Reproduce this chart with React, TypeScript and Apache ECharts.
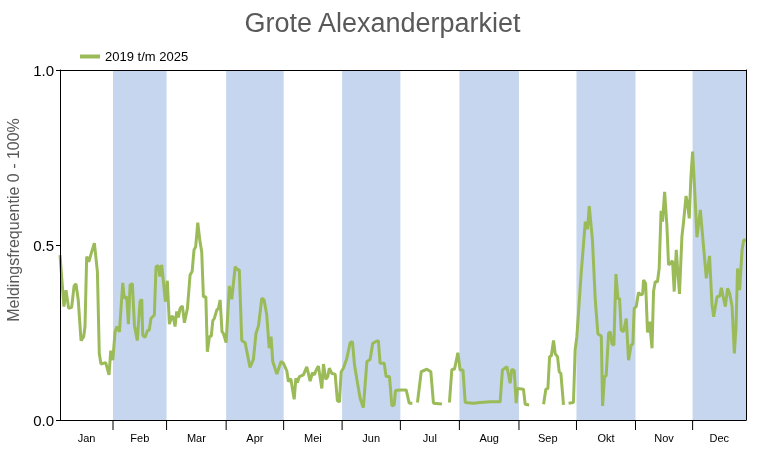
import React, { useEffect, useRef } from "react";
import * as echarts from "echarts";

const monthNames = ["Jan", "Feb", "Mar", "Apr", "Mei", "Jun", "Jul", "Aug", "Sep", "Okt", "Nov", "Dec"];
// month boundaries on the day axis (as drawn in the reference)
const monthStarts = [0, 28.2, 56.7, 88.4, 119.0, 150.1, 181.1, 212.5, 244.2, 274.8, 306.2, 336.6, 365];
const yTicks = [0, 0.5, 1];
const seriesName = "2019 t/m 2025";
const yName = "Meldingsfrequentie 0 - 100%";

const days = [
  0.0, 2.1, 3.2, 4.6, 6.2, 7.5, 8.5, 9.7, 11.2, 12.6, 13.3, 14.2, 15.3, 16.9, 18.3, 19.9, 20.9, 21.8, 24.3, 26.1,
  27.0, 28.1, 29.3, 30.3, 31.6, 33.4, 34.2, 35.5, 36.4, 37.3, 38.5, 39.6, 41.1, 42.6, 43.5, 44.0, 45.2, 46.5, 47.5, 48.4,
  50.2, 51.1, 52.3, 53.1, 54.1, 56.1, 57.1, 58.2, 59.5, 60.3, 61.2, 62.1, 63.0, 63.9, 65.1, 66.2, 67.8, 69.2, 70.3, 71.3,
  72.2, 73.3, 74.5, 75.4, 76.3, 77.6, 78.4, 79.5, 80.5, 81.3, 82.1, 83.4, 84.3, 85.2, 86.2, 86.9, 88.4, 90.1, 91.4, 93.2,
  94.4, 95.4, 96.7, 98.5, 101.1, 102.9, 104.3, 105.6, 107.4, 108.6, 110.0, 111.3, 112.3, 113.2, 115.4, 117.6, 118.9, 120.7, 121.5, 122.8,
  124.6, 125.5, 126.3, 127.4, 129.5, 131.3, 133.1, 134.3, 135.4, 136.3, 137.5, 139.3, 140.2, 141.4, 142.5, 143.3, 144.6, 146.4, 147.6, 148.7,
  149.6, 150.8, 152.6, 154.4, 155.6, 156.7, 158.3, 159.7, 161.4, 163.3, 165.0, 166.4, 167.7, 169.4, 170.3, 172.5, 173.5, 175.3, 176.6, 177.8,
  178.5, 181.0, 184.2, 185.8, 187.5, 189.0,
  190.2, 192.2, 195.2, 197.3, 198.7, 203.2, 205.0,
  207.2, 208.5, 209.9, 211.7, 212.9, 214.4, 215.6, 220.0, 223.6, 228.9, 234.2, 235.4, 237.8, 239.5, 240.4, 241.7, 242.7, 243.4, 246.6, 247.5,
  249.6, 253.0,
  257.3, 258.5, 259.6, 260.5, 261.4, 262.6, 263.5, 264.7, 265.6, 266.5, 267.9, 269.0,
  270.6, 273.2, 274.1, 275.0, 277.3, 279.5, 280.7, 281.6, 283.3, 284.8, 286.2, 288.0, 288.7, 289.7, 290.6, 291.9, 292.8, 293.7, 294.7, 295.8,
  296.9, 297.7, 298.6, 299.8, 301.3, 302.5, 303.9, 304.8, 305.5, 306.6, 307.8, 309.1, 310.0, 310.5, 311.6, 312.6, 313.7, 315.0, 315.8, 316.7,
  317.9, 318.8, 319.8, 320.6, 321.7, 322.9, 323.8, 325.1, 325.9, 326.8, 327.9, 328.6, 329.6, 330.9, 331.8, 333.1, 333.9, 334.8, 335.7, 336.6,
  337.6, 338.9, 340.7, 342.1, 343.9, 345.6, 346.9, 347.8, 349.6, 351.0, 351.9, 352.8, 354.0, 355.2, 356.3, 357.6, 358.8, 359.7, 360.5, 361.6,
  362.9, 363.8, 365.0,
];

const values = [
  0.471, 0.324, 0.371, 0.319, 0.322, 0.383, 0.389, 0.343, 0.227, 0.238, 0.267, 0.467, 0.452, 0.481, 0.505, 0.424, 0.19, 0.16, 0.164, 0.129,
  0.198, 0.171, 0.252, 0.267, 0.252, 0.392, 0.348, 0.352, 0.274, 0.386, 0.39, 0.271, 0.227, 0.338, 0.345, 0.243, 0.236, 0.255, 0.257, 0.29,
  0.3, 0.438, 0.441, 0.41, 0.443, 0.338, 0.398, 0.274, 0.297, 0.293, 0.267, 0.31, 0.293, 0.319, 0.326, 0.278, 0.319, 0.414, 0.424, 0.486,
  0.495, 0.564, 0.509, 0.481, 0.352, 0.352, 0.195, 0.238, 0.24, 0.284, 0.29, 0.314, 0.319, 0.343, 0.252, 0.248, 0.221, 0.383, 0.345, 0.438,
  0.429, 0.429, 0.227, 0.221, 0.15, 0.173, 0.248, 0.269, 0.348, 0.343, 0.3, 0.205, 0.238, 0.167, 0.131, 0.167, 0.162, 0.14, 0.11, 0.118,
  0.059, 0.119, 0.107, 0.124, 0.129, 0.152, 0.111, 0.135, 0.129, 0.143, 0.154, 0.09, 0.16, 0.116, 0.124, 0.148, 0.133, 0.131, 0.055, 0.052,
  0.138, 0.148, 0.176, 0.221, 0.224, 0.157, 0.105, 0.062, 0.035, 0.167, 0.173, 0.219, 0.223, 0.227, 0.162, 0.162, 0.124, 0.124, 0.04, 0.043,
  0.084, 0.086, 0.086, 0.048, 0.048, null,
  0.05, 0.138, 0.145, 0.138, 0.048, 0.046, null,
  0.05, 0.145, 0.145, 0.192, 0.143, 0.143, 0.05, 0.048, 0.05, 0.052, 0.052, 0.143, 0.152, 0.105, 0.145, 0.141, 0.048, 0.09, 0.088, 0.045,
  0.043, null,
  0.045, 0.088, 0.09, 0.181, 0.183, 0.227, 0.189, 0.181, 0.138, 0.133, 0.043, null,
  0.048, 0.05, 0.2, 0.238, 0.419, 0.567, 0.545, 0.611, 0.514, 0.343, 0.246, 0.24, 0.04, 0.124, 0.126, 0.248, 0.252, 0.217, 0.214, 0.417,
  0.345, 0.348, 0.257, 0.252, 0.29, 0.171, 0.214, 0.217, 0.319, 0.324, 0.364, 0.357, 0.36, 0.4, 0.39, 0.25, 0.281, 0.205, 0.367, 0.395,
  0.395, 0.433, 0.598, 0.567, 0.652, 0.557, 0.443, 0.45, 0.455, 0.367, 0.486, 0.433, 0.36, 0.524, 0.567, 0.64, 0.619, 0.576, 0.695, 0.767,
  0.667, 0.522, 0.6, 0.514, 0.405, 0.469, 0.329, 0.295, 0.352, 0.354, 0.378, 0.354, 0.324, 0.376, 0.362, 0.324, 0.19, 0.267, 0.433, 0.371,
  0.486, 0.514, 0.514,
];

const FONT = '"Liberation Sans", Arial, Helvetica, sans-serif';
const LINE_COLOR = "#9BBB59";
const BAND_COLOR = "#C6D6EE";

export default function App() {
  const ref = useRef<HTMLDivElement>(null);

  useEffect(() => {
    if (!ref.current) return;
    const chart = echarts.init(ref.current, undefined, { renderer: "svg" });

    const lineData = days.map((d, i) => [d, values[i] === null ? "-" : values[i]]);
    const monthData = monthNames.map((_, i) => [monthStarts[i], monthStarts[i + 1], i]);

    const baseX = {
      type: "value" as const,
      min: 0,
      max: 365,
      axisLine: { show: true, onZero: false, lineStyle: { color: "#000", width: 1 } },
      axisTick: { show: false },
      axisLabel: { show: false },
      splitLine: { show: false },
      z: 10,
    };

    chart.setOption({
      animation: false,
      textStyle: { fontFamily: FONT },
      title: {
        text: "Grote Alexanderparkiet",
        left: "center",
        top: 4,
        textStyle: { fontSize: 27, fontWeight: "normal", color: "#595959", fontFamily: FONT },
      },
      legend: {
        data: [seriesName],
        left: 75,
        top: 45,
        icon: "rect",
        itemWidth: 20,
        itemHeight: 4,
        itemGap: 10,
        textStyle: { fontSize: 13, color: "#000", fontFamily: FONT },
      },
      graphic: [
        {
          type: "text",
          x: 13,
          y: 220,
          rotation: Math.PI / 2,
          style: {
            text: yName,
            fontSize: 16,
            fontFamily: FONT,
            fill: "#595959",
            align: "center",
            verticalAlign: "middle",
          },
        },
      ],
      grid: { left: 60, right: 19, top: 70, bottom: 30, containLabel: false, outerBoundsMode: "none" },
      xAxis: [
        { ...baseX, position: "bottom" },
        { ...baseX, position: "top" },
      ],
      yAxis: [
        {
          type: "value",
          min: 0,
          max: 1,
          interval: 0.5,
          position: "left",
          axisLine: { show: true, onZero: false, lineStyle: { color: "#000", width: 1 } },
          axisTick: { show: true, length: 4, lineStyle: { color: "#000" } },
          axisLabel: {
            fontSize: 15,
            color: "#000",
            margin: 6,
            formatter: (v: number) => (yTicks.includes(v) ? v.toFixed(1) : ""),
          },
          splitLine: { show: false },
          z: 10,
        },
        {
          type: "value",
          min: 0,
          max: 1,
          position: "right",
          axisLine: { show: true, onZero: false, lineStyle: { color: "#000", width: 1 } },
          axisTick: { show: false },
          axisLabel: { show: false },
          splitLine: { show: false },
          z: 10,
        },
      ],
      series: [
        {
          type: "custom",
          name: "months",
          z: 1,
          silent: true,
          clip: false,
          data: monthData,
          encode: { x: [0, 1], y: 2 },
          renderItem: (params: any, api: any) => {
            const s = api.value(0);
            const e = api.value(1);
            const i = api.value(2);
            const tl = api.coord([s, 1]);
            const br = api.coord([e, 0]);
            const children: any[] = [];
            if (i % 2 === 1) {
              children.push({
                type: "rect",
                shape: { x: tl[0], y: tl[1], width: br[0] - tl[0], height: br[1] - tl[1] },
                style: { fill: BAND_COLOR },
              });
            }
            if (i > 0) {
              children.push({
                type: "line",
                shape: { x1: tl[0], y1: br[1], x2: tl[0], y2: br[1] + 10 },
                style: { stroke: "#000", lineWidth: 1 },
              });
            }
            children.push({
              type: "text",
              x: (tl[0] + br[0]) / 2,
              y: br[1] + 18,
              style: {
                text: monthNames[i],
                fill: "#000",
                fontSize: 11,
                fontFamily: FONT,
                align: "center",
                verticalAlign: "middle",
              },
            });
            return { type: "group", children };
          },
        },
        {
          type: "line",
          name: seriesName,
          z: 3,
          data: lineData,
          showSymbol: false,
          symbol: "none",
          connectNulls: false,
          lineStyle: { color: LINE_COLOR, width: 3 },
          itemStyle: { color: LINE_COLOR },
        },
      ],
    });

    return () => chart.dispose();
  }, []);

  return (
    <div
      ref={ref}
      style={{ position: "fixed", left: 0, top: 0, width: 765, height: 450 }}
    />
  );
}
